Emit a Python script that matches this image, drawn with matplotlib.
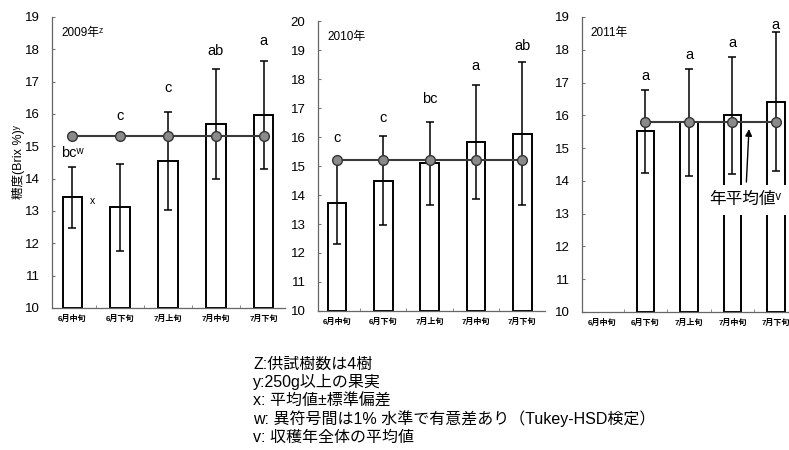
import matplotlib
matplotlib.use("Agg")
import matplotlib.pyplot as plt
import numpy as np

plt.rcParams['font.family'] = ['Liberation Sans', 'Noto Sans CJK JP', 'DejaVu Sans']

periods = ['6月中旬', '6月下旬', '7月上旬', '7月中旬', '7月下旬']

# 糖度 mean, SD, group letters and letter heights per year
brix_2009 = [13.42, 13.11, 14.54, 15.68, 15.96]
sd_2009 = [0.95, 1.35, 1.51, 1.70, 1.67]
letters_2009 = ['bcʷ', 'c', 'c', 'ab', 'a']
letter_y_2009 = [14.8, 15.95, 16.8, 17.95, 18.25]
year_mean_2009 = 15.31

brix_2010 = [13.73, 14.50, 15.09, 15.83, 16.12]
sd_2010 = [1.43, 1.52, 1.43, 1.96, 2.46]
letters_2010 = ['c', 'c', 'bc', 'a', 'ab']
letter_y_2010 = [15.97, 16.64, 17.3, 18.45, 19.14]
year_mean_2010 = 15.2

brix_2011 = [np.nan, 15.51, 15.79, 16.00, 16.41]
sd_2011 = [np.nan, 1.26, 1.63, 1.78, 2.12]
letters_2011 = ['', 'a', 'a', 'a', 'a']
letter_y_2011 = [np.nan, 17.19, 17.85, 18.21, 18.74]
year_mean_2011 = 15.8

notes = [
    'Z:供試樹数は4樹',
    'y:250g以上の果実',
    'x: 平均値±標準偏差',
    'w: 異符号間は1% 水準で有意差あり（Tukey-HSD検定）',
    'v: 収穫年全体の平均値',
]

fig = plt.figure(figsize=(7.89, 4.5), dpi=100)


def panel(rect, vals, sds, letters, letter_y, ymean, title, ylim, xlim):
    ax = fig.add_axes(rect)
    x = np.arange(len(periods))
    vals = np.array(vals, dtype=float)
    sds = np.array(sds, dtype=float)
    ok = ~np.isnan(vals)
    ax.bar(x[ok], vals[ok] - ylim[0], bottom=ylim[0], width=0.4,
           color='white', edgecolor='black', linewidth=1.4, zorder=2)
    ax.errorbar(x[ok], vals[ok], yerr=sds[ok], fmt='none', ecolor='black',
                elinewidth=1.1, capsize=3.2, capthick=1.1, zorder=3)
    ax.plot(x[ok], np.full(ok.sum(), ymean), color='#3a3a3a', lw=1.5,
            marker='o', ms=7, mfc='#8a8a8a', mec='#333333', mew=1.0, zorder=4)
    for xi, lab, ly in zip(x, letters, letter_y):
        if lab:
            ax.text(xi, ly, lab, ha='center', va='center', fontsize=10.5)
    ax.text(0.04, 0.945, title, transform=ax.transAxes, fontsize=8.5,
            ha='left', va='center')
    ax.set_ylim(*ylim)
    ax.set_xlim(*xlim)
    ax.set_yticks(np.arange(ylim[0], ylim[1] + 1))
    ax.set_xticks(x)
    ax.set_xticklabels(periods, fontsize=5.8, fontweight='bold')
    ax.set_xticks(np.arange(len(periods) - 1) + 0.5, minor=True)
    ax.tick_params(axis='x', which='major', length=0, pad=5)
    ax.tick_params(axis='x', which='minor', direction='in', length=2,
                   color='#777777')
    ax.tick_params(axis='y', direction='in', length=2.5, color='#777777',
                   labelsize=9.5, pad=9)
    for s in ('top', 'right'):
        ax.spines[s].set_visible(False)
    for s in ('left', 'bottom'):
        ax.spines[s].set_color('#666666')
        ax.spines[s].set_linewidth(0.9)
    return ax


ax1 = panel([0.0659, 0.3156, 0.2953, 0.6467], brix_2009, sd_2009,
            letters_2009, letter_y_2009, year_mean_2009,
            '2009年ᶻ', (10, 19), (-0.42, 4.44))
ax1.text(0.43, 13.32, 'x', fontsize=7.5, ha='center', va='center')
ax1.set_ylabel('糖度(Brix %)ʸ', fontsize=9, labelpad=0)

ax2 = panel([0.403, 0.3089, 0.2877, 0.6444], brix_2010, sd_2010,
            letters_2010, letter_y_2010, year_mean_2010,
            '2010年', (10, 20), (-0.41, 4.49))

ax3 = panel([0.7376, 0.3067, 0.2712, 0.6556], brix_2011, sd_2011,
            letters_2011, letter_y_2011, year_mean_2011,
            '2011年', (10, 19), (-0.46, 4.46))
ax3.annotate('年平均値ᵛ', xy=(3.38, 15.58), xytext=(3.3, 13.42),
             ha='center', va='center', fontsize=12, zorder=6,
             bbox=dict(boxstyle='square,pad=0.45', fc='white', ec='none'),
             arrowprops=dict(arrowstyle='-|>', color='black', lw=1.0,
                             mutation_scale=10, shrinkA=2, shrinkB=0))

for i, line in enumerate(notes):
    fig.text(253 / 789, 1 - (364 + 18.3 * i) / 450, line, fontsize=11.5,
             ha='left', va='center')

fig.savefig('out.png', dpi=100)
